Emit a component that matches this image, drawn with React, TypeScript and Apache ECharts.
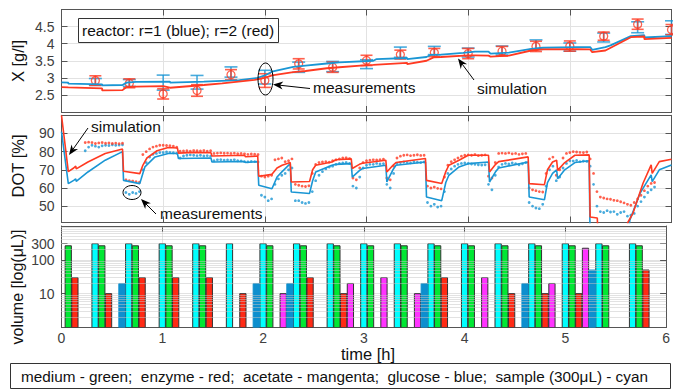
import React, { useEffect, useRef } from "react";
import * as echarts from "echarts";

const BLUE = "#1a96d4";
const RED = "#ff3a22";
const FONT = "Liberation Sans, Arial, Helvetica, sans-serif";
const AXIS = "#555555";
const GRIDC = "#e2e2e2";
const LABELC = "#404040";

// ---------- top panel: biomass X [g/l] ----------
const xSimBlue: number[][] = [
  [0, 2.87], [0.067, 2.86], [0.067, 2.83], [0.4, 2.81], [0.4, 2.78], [0.6, 2.79], [0.64, 2.86],
  [0.733, 2.88], [0.733, 2.86], [1.067, 2.89], [1.067, 2.86], [1.4, 2.89], [1.4, 2.87], [1.75, 2.93],
  [1.93, 3.0], [2.0, 3.07], [2.07, 3.18], [2.07, 3.16], [2.28, 3.32], [2.4, 3.36], [2.4, 3.34],
  [2.61, 3.42], [2.733, 3.45], [2.733, 3.43], [3.067, 3.5], [3.067, 3.48], [3.1, 3.55], [3.4, 3.58],
  [3.4, 3.55], [3.59, 3.61], [3.63, 3.67], [3.733, 3.68], [3.733, 3.66], [3.95, 3.73], [4.067, 3.77],
  [4.067, 3.75], [4.2, 3.77], [4.22, 3.71], [4.4, 3.74], [4.4, 3.72], [4.62, 3.85], [4.733, 3.88],
  [4.733, 3.86], [5.067, 3.9], [5.067, 3.88], [5.2, 3.9], [5.22, 3.82], [5.35, 3.9], [5.4, 3.95],
  [5.6, 4.22], [5.733, 4.25], [5.733, 4.18], [6.0, 4.22],
];
const xSimRed: number[][] = [
  [0, 2.73], [0.067, 2.72], [0.067, 2.7], [0.4, 2.69], [0.4, 2.63], [0.6, 2.64], [0.64, 2.73],
  [0.733, 2.74], [0.733, 2.72], [1.0, 2.76], [1.067, 2.71], [1.4, 2.79], [1.4, 2.77], [1.58, 2.84],
  [1.9, 2.94], [2.0, 3.0], [2.07, 3.07], [2.07, 3.05], [2.28, 3.17], [2.4, 3.2], [2.4, 3.18],
  [2.61, 3.28], [2.733, 3.31], [2.733, 3.29], [2.94, 3.36], [3.067, 3.38], [3.067, 3.36], [3.4, 3.44],
  [3.4, 3.4], [3.59, 3.5], [3.66, 3.6], [3.733, 3.61], [3.733, 3.59], [4.0, 3.66], [4.067, 3.66],
  [4.067, 3.64], [4.2, 3.65], [4.22, 3.62], [4.4, 3.65], [4.4, 3.63], [4.62, 3.8], [4.733, 3.83],
  [4.733, 3.81], [5.067, 3.84], [5.067, 3.82], [5.2, 3.83], [5.22, 3.75], [5.35, 3.8], [5.6, 4.19],
  [5.733, 4.21], [5.733, 4.13], [6.0, 4.17],
];
const measTimes = [0.333, 0.667, 1.0, 1.333, 1.667, 2.0, 2.333, 2.667, 3.0, 3.333, 3.667, 4.0, 4.333, 4.667, 5.0, 5.333, 5.667, 6.0];
const measRed = [2.92, 2.84, 2.53, 2.63, 3.09, 2.92, 3.41, 3.31, 3.51, 3.68, 3.74, 3.71, 3.78, 3.92, 3.93, 4.22, 4.57, 4.41];
const errRed = [0.14, 0.13, 0.15, 0.17, 0.15, 0.2, 0.15, 0.15, 0.15, 0.13, 0.12, 0.15, 0.14, 0.15, 0.15, 0.12, 0.15, 0.15];
const measBlue = [2.88, 2.85, 2.86, 2.87, 3.17, 3.02, 3.31, 3.33, 3.4, 3.75, 3.8, 3.74, 3.8, 3.97, 3.9, 4.18, 4.48, 4.47];
const errBlue = [0.1, 0.1, 0.22, 0.2, 0.15, 0.2, 0.15, 0.15, 0.13, 0.15, 0.12, 0.13, 0.13, 0.14, 0.12, 0.13, 0.16, 0.2];

// ---------- middle panel: DOT [%] ----------
const dotSimRed: number[][] = [
  [0, 100], [0.067, 69], [0.12, 71], [0.14, 72], [0.145, 70.5], [0.26, 74.3], [0.43, 79], [0.6, 81.5],
  [0.61, 69.2], [0.77, 67.9], [0.8, 72.5], [0.84, 76.5], [0.94, 80.5], [1.05, 82.3], [1.14, 82], [1.15, 79.2],
  [1.3, 79.6], [1.47, 79.4], [1.48, 77.6], [1.8, 78], [1.81, 77.2], [1.93, 77.6], [1.94, 66.5], [2.07, 67.5],
  [2.12, 71], [2.17, 72.5], [2.25, 74], [2.26, 63.3], [2.44, 63.6], [2.47, 70], [2.5, 72.5], [2.66, 74.3],
  [2.7, 75.5], [2.85, 76], [2.86, 70.7], [2.93, 73], [2.96, 73.6], [3.19, 75.3], [3.2, 68.8], [3.26, 72.5],
  [3.29, 74], [3.58, 76.2], [3.59, 64.2], [3.74, 62.5], [3.78, 69], [3.81, 72.5], [3.91, 75.3], [4.0, 78],
  [4.2, 78], [4.21, 68.8], [4.27, 73], [4.3, 74.5], [4.59, 77.1], [4.6, 62.4], [4.75, 61.8], [4.78, 70],
  [4.83, 74.3], [4.87, 75.3], [4.88, 69.7], [4.95, 74], [5.05, 78], [5.19, 78.2], [5.2, 44], [5.27, 43.5],
  [5.28, 30], [5.55, 30], [5.57, 41], [5.62, 46], [5.72, 62.6], [5.8, 72.7], [5.81, 68], [5.88, 74.5], [6.0, 75.8],
];
const dotSimBlue: number[][] = [
  [0, 91], [0.067, 62.4], [0.12, 64.2], [0.14, 65], [0.145, 63.7], [0.26, 68.8], [0.43, 75.3], [0.6, 80],
  [0.61, 64.2], [0.77, 62.4], [0.8, 68], [0.82, 71.6], [0.92, 77.1], [1.05, 79], [1.14, 79], [1.15, 76.2],
  [1.47, 76.5], [1.48, 74.3], [1.8, 74.6], [1.81, 74], [1.93, 74.5], [1.94, 61.5], [2.07, 59.6], [2.12, 66],
  [2.17, 69], [2.25, 73.4], [2.26, 57.8], [2.44, 57], [2.47, 64], [2.5, 68.8], [2.66, 72.5], [2.7, 73],
  [2.85, 73.4], [2.86, 66], [2.93, 69.5], [2.96, 70.7], [3.19, 72.5], [3.2, 63.3], [3.26, 70], [3.29, 72.5],
  [3.58, 74.3], [3.59, 55], [3.74, 53], [3.78, 63], [3.81, 67], [3.91, 71.6], [4.0, 73.4], [4.2, 74.3],
  [4.21, 63.3], [4.27, 69], [4.3, 71], [4.59, 74.3], [4.6, 55], [4.75, 53.5], [4.78, 63], [4.83, 68],
  [4.87, 70], [4.88, 65.1], [4.95, 70], [5.05, 74], [5.19, 75], [5.2, 30], [5.57, 30], [5.59, 42.3],
  [5.69, 57], [5.8, 67.2], [5.81, 63.5], [5.88, 70], [6.0, 72.7],
];
// DOT measurements, one value every 2 min (1/30 h) from t = 0, ten per 20-min cycle
const DOT_STEP = 1 / 30;
const dotMeasRed: (number | null)[] = [
  null, null, null, null, null, null, null, 85, 85.2, 85,
  84.5, 84.8, 85, 84.6, 84.8, 84.5, 84.7, 84.4, 84.6, 64.5,
  64, 63.8, 63.5, 63.2, 78.4, 80, 81.5, 82.5, 83, 83.5,
  83.5, 83.4, 83.3, 83, 82.5, 80.2, 80.4, 80.5, 80.3, 80.6,
  80.5, 80.4, 80.6, 80.3, 80.5, 79, 79.2, 79.3, 79.1, 79.2,
  79, 79.2, 78.9, 79, 78.8, 78.5, 78.7, 78.6, 78.4, 66.5,
  66, 66.5, 67, 75.5, 76, 76.5, 74.5, 75, 76, 62,
  61.5, 61, 60.8, 61.2, 68, 73, 74, 74.3, 74.5, 74.2,
  75, 75.5, 76, 76.5, 76.6, 76.2, 65.5, 64.5, 71, 74,
  75, 75.3, 75.5, 75.4, 75.6, 75.8, 65.5, 64.5, 72, 76.5,
  77.5, 78, 78.2, 77.8, 78, 78.3, 77.9, 78, 61, 60,
  60.5, 59.8, 59.5, 66, 72.5, 74.5, 75.5, 76.5, 77.5, 78,
  78.2, 78, 78.4, 77.8, 78, 78.2, 66.5, 65.5, 74, 79,
  79.2, 79, 79.3, 78.8, 79, 78.5, 78.8, 79, 60, 59,
  58.5, 58, 57.8, 68, 76, 77, 67, 70, 76.5, 79,
  79.5, 80, 79.8, 79.6, 79.5, 79.8, 76, 68, 58, 55,
  54.5, 54, 53.8, 53.2, 53, 52.4, 51.8, 51, 50.5, 52,
  54, 56, 58.5, 61, 62.5, 63,
];
const dotMeasBlue: (number | null)[] = [
  null, null, null, null, null, null, null, 80.5, 82.5, 83.5,
  83, 82.5, 83.2, 83.5, 83.4, 83.8, 83.5, 83.6, 83.8, 57.5,
  56.5, 57.5, 57, 58, 70, 74, 77, 78.5, 79, 79.5,
  79.5, 79.8, 79.6, 79.4, 79.2, 76.5, 77.6, 78, 78.2, 78,
  77.8, 78, 77.6, 77.8, 77.5, 75, 75.5, 75.6, 75.3, 75.4,
  75.3, 75.5, 75, 74.9, 74.5, 74.4, 74.6, 74.5, 74.3, 56,
  55, 53, 54, 62, 65, 67, 68, 70, 71, 53,
  53, 52, 51.5, 52, 58, 64, 67, 69, 70.5, 71.5,
  72, 73, 73.5, 73.8, 74, 73.5, 61, 60, 66, 71,
  72.5, 73, 73, 73.5, 73.2, 73.4, 62, 60, 68, 73.5,
  74, 74.3, 74, 73.8, 74.5, 74.2, 74, 74.3, 52, 50,
  51, 49.5, 50, 58, 68, 70.5, 72, 73, 73.5, 73.8,
  73.5, 73.2, 73, 72.8, 72.6, 72.8, 62, 59, 67, 71.5,
  73, 73.5, 73.2, 73.8, 73.4, 72.8, 73.3, 74, 52, 50,
  49, 48.6, 51, 61, 70, 72, 64, 66, 71, 73.5,
  75, 74.8, 75.2, 74.5, 74.8, 74.6, 72, 62, 50, 47,
  46.5, 47.5, 46.8, 47, 45.5, 46.5, 47, 44.5, 45, 46,
  50, 52.5, 55, 57.5, 59, 60.5,
];

// ---------- bottom panel: added volumes [uL] ----------
const sampleAdds: number[][] = [
  [0.333, 300], [0.667, 300], [1.0, 300], [1.333, 300], [1.667, 300], [2.0, 300], [2.333, 300], [2.667, 300],
  [3.0, 300], [3.333, 300], [3.667, 300], [4.0, 300], [4.333, 300], [4.667, 300], [5.0, 300], [5.333, 300], [5.667, 300],
];
const mediumAdds: number[][] = [
  [0.067, 260], [0.4, 260], [0.733, 260], [1.067, 260], [1.4, 260], [2.067, 260], [2.4, 260], [2.733, 260],
  [3.067, 260], [3.4, 260], [3.733, 260], [4.067, 260], [4.4, 260], [4.733, 260], [5.067, 260], [5.4, 260], [5.733, 260],
];
const enzymeAdds: number[][] = [
  [0.133, 30], [0.467, 10], [0.8, 30], [1.133, 30], [1.467, 30], [1.8, 10], [2.467, 30], [2.8, 10],
  [3.8, 30], [4.467, 10], [4.8, 10], [5.133, 10], [5.8, 50],
];
const acetateAdds: number[][] = [[2.2, 10], [2.867, 20], [3.2, 30], [3.533, 10], [4.2, 30], [4.867, 20], [5.2, 220]];
const glucoseAdds: number[][] = [[0.6, 20], [1.933, 20], [2.267, 20], [3.6, 20], [4.6, 20], [5.267, 50]];
const volTickValues = [10, 100, 300];
const minorGridValues = [2, 3, 4, 5, 6, 7, 8, 9, 20, 30, 40, 50, 60, 70, 80, 90, 200, 300, 400, 500, 600, 700, 800, 900];
const BAR_W = 0.062;

const labelStyle = { color: LABELC, fontSize: 14, fontFamily: FONT };

function mkX(grid: number, bottom: boolean, labels: boolean) {
  return {
    type: "value", gridIndex: grid, min: 0, max: 6, interval: 1, position: bottom ? "bottom" : "top",
    axisLine: { show: true, onZero: false, lineStyle: { color: AXIS, width: 1 } },
    axisTick: { show: true, inside: true, length: 6, lineStyle: { color: AXIS } },
    axisLabel: { show: labels, margin: 3, ...labelStyle },
    splitLine: { show: bottom, lineStyle: { color: GRIDC, width: 1 } },
  };
}

function mkY(grid: number, left: boolean, extra: any) {
  return {
    gridIndex: grid, position: left ? "left" : "right",
    axisLine: { show: true, onZero: false, lineStyle: { color: AXIS, width: 1 } },
    axisTick: { show: true, inside: true, length: 6, lineStyle: { color: AXIS } },
    axisLabel: { show: left, margin: 7, ...labelStyle },
    splitLine: { show: left, lineStyle: { color: GRIDC, width: 1 } },
    ...extra,
  };
}

function errBarSeries(times: number[], c: number[], e: number[], color: string, cap: number) {
  return {
    type: "custom", xAxisIndex: 0, yAxisIndex: 0, silent: true, clip: false,
    data: times.map((t, i) => [t, c[i], e[i]]),
    encode: { x: 0, y: 1 },
    renderItem: (_p: any, api: any) => {
      const t = api.value(0), m = api.value(1), h = api.value(2);
      const a = api.coord([t, m + h]);
      const b = api.coord([t, m - h]);
      const st = { stroke: color, lineWidth: 1.6, opacity: 0.8 };
      return {
        type: "group",
        children: [
          { type: "line", shape: { x1: a[0], y1: a[1], x2: b[0], y2: b[1] }, style: st },
          { type: "line", shape: { x1: a[0] - cap, y1: a[1], x2: a[0] + cap, y2: a[1] }, style: st },
          { type: "line", shape: { x1: b[0] - cap, y1: b[1], x2: b[0] + cap, y2: b[1] }, style: st },
        ],
      };
    },
  };
}

function barSeries(name: string, data: number[][], fill: string, stroke: string) {
  return {
    name, type: "custom", xAxisIndex: 4, yAxisIndex: 4, silent: true, clip: true,
    data, encode: { x: 0, y: 1 },
    renderItem: (_p: any, api: any) => {
      const t = api.value(0), v = api.value(1);
      const top = api.coord([t, v]);
      const base = api.coord([t, 1]);
      const l = api.coord([t - BAR_W / 2, v])[0];
      const r = api.coord([t + BAR_W / 2, v])[0];
      return {
        type: "rect",
        shape: { x: l, y: top[1], width: r - l, height: base[1] - top[1] },
        style: { fill, stroke, lineWidth: 1 },
      };
    },
  };
}

function arrow(tail: number[], tip: number[]) {
  const dx = tip[0] - tail[0], dy = tip[1] - tail[1];
  const len = Math.hypot(dx, dy);
  const ux = dx / len, uy = dy / len, nx = -uy, ny = ux;
  const L = 10, W = 4;
  const b = [tip[0] - ux * L, tip[1] - uy * L];
  const m = [tip[0] - ux * L * 0.7, tip[1] - uy * L * 0.7];
  return [
    { type: "line", z: 100, shape: { x1: tail[0], y1: tail[1], x2: m[0], y2: m[1] }, style: { stroke: "#000", lineWidth: 1 } },
    {
      type: "polygon", z: 100,
      shape: { points: [tip, [b[0] + nx * W, b[1] + ny * W], m, [b[0] - nx * W, b[1] - ny * W]] },
      style: { fill: "#000" },
    },
  ];
}

function txt(x: number, y: number, text: string, size: number, extra: any = {}) {
  return {
    type: "text", x, y, z: 100, ...extra,
    style: { text, fontSize: size, fontFamily: FONT, fill: "#111", align: "left", verticalAlign: "middle", ...(extra.style || {}) },
  };
}

const SP2 = "\u00a0 ";

export default function App() {
  const ref = useRef<HTMLDivElement>(null);
  useEffect(() => {
    if (!ref.current) return;
    const chart = echarts.init(ref.current, undefined, { renderer: "svg" });
    const toPairs = (arr: (number | null)[]) =>
      arr.map((v, i) => (v == null ? null : [i * DOT_STEP, v])).filter((p) => p !== null);

    const legendText =
      "medium - green;" + SP2 + "enzyme - red;" + SP2 + "acetate - mangenta;" + SP2 + "glucose - blue;" + SP2 + "sample (300μL) - cyan";

    const graphicEls: any[] = [
      { type: "rect", z: 100, shape: { x: 78.5, y: 18.5, width: 200, height: 24 }, style: { fill: "#fff", stroke: "#333", lineWidth: 1 } },
      txt(82, 30.5, "reactor: r=1 (blue); r=2 (red)", 15.5),
      { type: "ellipse", z: 100, shape: { cx: 265.5, cy: 79, rx: 7.5, ry: 16 }, style: { fill: "none", stroke: "#000", lineWidth: 1 } },
      ...arrow([310, 88.5], [273, 84.5]),
      txt(313, 87, "measurements", 15.5),
      ...arrow([474, 80], [458, 58.5]),
      txt(477, 88, "simulation", 15.5),
      ...arrow([88, 128], [69, 155]),
      txt(91, 126, "simulation", 15.5),
      { type: "ellipse", z: 100, shape: { cx: 132, cy: 192.5, rx: 9, ry: 7 }, style: { fill: "none", stroke: "#000", lineWidth: 1 } },
      ...arrow([156, 214], [141, 199]),
      txt(160, 213, "measurements", 15.5),
      txt(17.5, 61, "X [g/l]", 16.5, { rotation: Math.PI / 2, style: { align: "center" } }),
      txt(17.5, 166, "DOT [%]", 16.5, { rotation: Math.PI / 2, style: { align: "center" } }),
      txt(17.5, 287, "volume [log(μL)]", 16, { rotation: Math.PI / 2, style: { align: "center" } }),
      txt(368, 354, "time [h]", 16.5, { style: { align: "center" } }),
      { type: "rect", z: 100, shape: { x: 10.5, y: 363.5, width: 660, height: 25 }, style: { fill: "#fff", stroke: "#333", lineWidth: 1 } },
      txt(21, 376.5, legendText, 15.3),
    ];

    chart.setOption({
      animation: false,
      backgroundColor: "#fff",
      textStyle: { fontFamily: FONT },
      grid: [
        { left: 61.5, right: 1.5, top: 9.5, height: 102.5 },
        { left: 61.5, right: 1.5, top: 115.3, height: 107.2 },
        { left: 61.5, right: 1.5, top: 226, height: 101.5 },
      ],
      xAxis: [mkX(0, true, false), mkX(0, false, false), mkX(1, true, false), mkX(1, false, false), mkX(2, true, true), mkX(2, false, false)],
      yAxis: [
        mkY(0, true, { type: "value", min: 2, max: 5, interval: 0.5, axisLabel: { show: true, margin: 7, ...labelStyle, formatter: (v: number) => (v > 2 && v < 5 ? String(v) : "") } }),
        mkY(0, false, { type: "value", min: 2, max: 5, interval: 0.5 }),
        mkY(1, true, { type: "value", min: 41, max: 100, splitNumber: 6, axisLabel: { show: true, margin: 7, ...labelStyle, formatter: (v: number) => (v >= 50 && v <= 90 && v % 10 === 0 ? String(v) : "") } }),
        mkY(1, false, { type: "value", min: 41, max: 100, splitNumber: 6 }),
        mkY(2, true, { type: "log", logBase: 10, min: 1, max: 1000, axisTick: { show: false }, axisLabel: { show: false } }),
        mkY(2, false, {
          type: "value", min: 0, max: 3,
          axisTick: { show: true, inside: true, length: 6, customValues: volTickValues.map((v) => Math.log10(v)), lineStyle: { color: AXIS } },
        }),
        {
          type: "value", gridIndex: 2, position: "left", min: 0, max: 3,
          axisLine: { show: false },
          splitLine: { show: false },
          axisTick: { show: true, inside: true, length: 6, customValues: volTickValues.map((v) => Math.log10(v)), lineStyle: { color: AXIS } },
          axisLabel: {
            show: true, margin: 7, ...labelStyle,
            customValues: volTickValues.map((v) => Math.log10(v)),
            formatter: (v: number) => String(Math.round(Math.pow(10, v))),
          },
        },
      ],
      graphic: { elements: graphicEls },
      series: [
        { type: "line", xAxisIndex: 0, yAxisIndex: 0, data: xSimBlue, symbol: "none", silent: true, lineStyle: { color: BLUE, width: 1.8 } },
        { type: "line", xAxisIndex: 0, yAxisIndex: 0, data: xSimRed, symbol: "none", silent: true, lineStyle: { color: RED, width: 1.8 } },
        errBarSeries(measTimes, measBlue, errBlue, BLUE, 6.5),
        errBarSeries(measTimes, measRed, errRed, RED, 6),
        {
          type: "scatter", xAxisIndex: 0, yAxisIndex: 0, silent: true, symbol: "circle", symbolSize: 8,
          data: measTimes.map((t, i) => [t, measRed[i]]),
          itemStyle: { color: "rgba(0,0,0,0)", borderColor: RED, borderWidth: 1.3 },
        },
        { type: "line", xAxisIndex: 2, yAxisIndex: 2, data: dotSimBlue, symbol: "none", silent: true, lineStyle: { color: BLUE, width: 1.6 } },
        { type: "line", xAxisIndex: 2, yAxisIndex: 2, data: dotSimRed, symbol: "none", silent: true, lineStyle: { color: RED, width: 1.6 } },
        { type: "scatter", xAxisIndex: 2, yAxisIndex: 2, silent: true, symbolSize: 2.8, data: toPairs(dotMeasBlue), itemStyle: { color: BLUE } },
        { type: "scatter", xAxisIndex: 2, yAxisIndex: 2, silent: true, symbolSize: 2.8, data: toPairs(dotMeasRed), itemStyle: { color: RED } },
        {
          ...barSeries("sample", sampleAdds, "#00ffff", "#333"),
          markLine: {
            silent: true, symbol: "none", label: { show: false },
            lineStyle: { color: "#c4c4c4", type: "dotted", width: 1 },
            data: minorGridValues.map((v) => ({ yAxis: v })),
          },
        },
        barSeries("medium", mediumAdds, "#00e833", "#333"),
        barSeries("enzyme", enzymeAdds, "#ff2a14", "#333"),
        barSeries("acetate", acetateAdds, "#ff33ff", "#333"),
        barSeries("glucose", glucoseAdds, "#0d8fce", "#0d8fce"),
      ],
    });
    return () => chart.dispose();
  }, []);
  return <div ref={ref} style={{ position: "absolute", left: 0, top: 0, width: 673, height: 390 }} />;
}
